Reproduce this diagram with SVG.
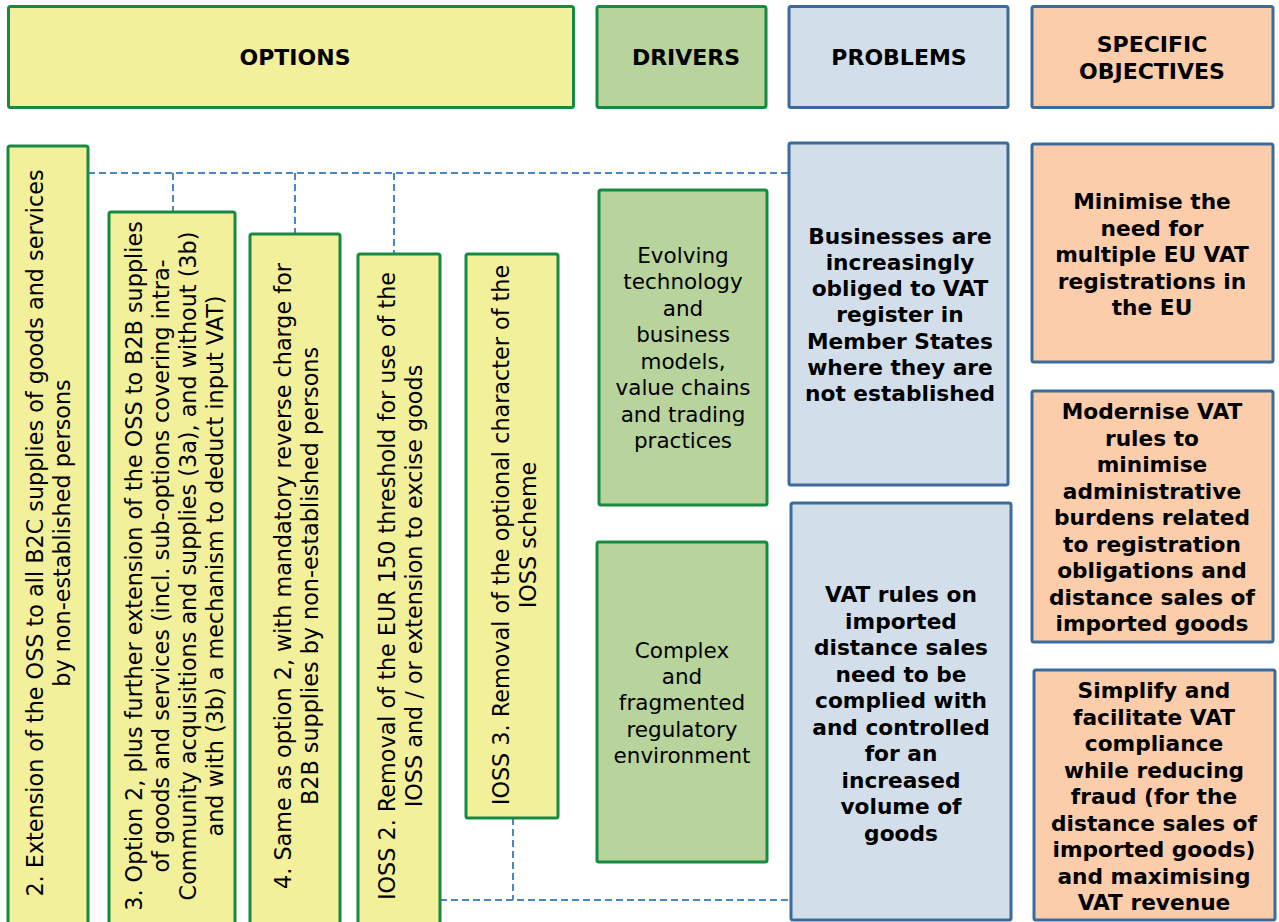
<svg xmlns="http://www.w3.org/2000/svg" width="1279" height="922" viewBox="0 0 1279 922">
<style>
.yel{fill:#F2F09B;stroke:#178A42;stroke-width:3}
.grn{fill:#B8D39B;stroke:#178A42;stroke-width:3}
.blu{fill:#D2DEEA;stroke:#3B6A9C;stroke-width:3}
.org{fill:#FBCDAA;stroke:#3B6A9C;stroke-width:3}
.hd{font-family:"DejaVu Sans",Verdana,sans-serif;font-weight:bold;font-size:22px;fill:#000;text-anchor:middle}
.rt{font-family:"DejaVu Sans",Verdana,sans-serif;font-size:22.3px;fill:#000;text-anchor:middle}
.dr{font-family:"DejaVu Sans",Verdana,sans-serif;font-size:21.5px;fill:#000;text-anchor:middle}
.bd{font-family:"DejaVu Sans",Verdana,sans-serif;font-weight:bold;font-size:21.7px;fill:#000;text-anchor:middle}
.dash{fill:none;stroke:#4A86C6;stroke-width:2;stroke-dasharray:7 4}
</style>
<rect width="1279" height="922" fill="#fff"/>
<g id="connectors">
<path class="dash" d="M88 173 H789"/>
<path class="dash" d="M173 173 V212"/>
<path class="dash" d="M295 173 V234"/>
<path class="dash" d="M394 173 V254"/>
<path class="dash" d="M440 900 H791"/>
<path class="dash" d="M513 818 V900"/>
</g>
<g id="h-options"><rect class="yel" x="8.5" y="6.5" width="565" height="101" rx="2"/><text class="hd" x="295" y="65">OPTIONS</text></g>
<g id="h-drivers"><rect class="grn" x="597" y="6.5" width="169" height="101" rx="2"/><text class="hd" x="686" y="65">DRIVERS</text></g>
<g id="h-problems"><rect class="blu" x="789" y="6.5" width="219" height="101" rx="2"/><text class="hd" x="899" y="65">PROBLEMS</text></g>
<g id="h-objectives"><rect class="org" x="1032" y="6.5" width="241" height="101" rx="2"/><text class="hd" x="1152" y="52">SPECIFIC</text><text class="hd" x="1152" y="79">OBJECTIVES</text></g>

<g id="opt2"><rect class="yel" x="8" y="146" width="80" height="790" rx="2"/>
<text class="rt" transform="translate(48 533) rotate(-90)"><tspan x="0" y="-5.5">2. Extension of the OSS to all B2C supplies of goods and services</tspan><tspan x="0" y="21.5">by non-established persons</tspan></text></g>
<g id="opt3"><rect class="yel" x="109" y="212" width="126" height="720" rx="2"/>
<text class="rt" transform="translate(174 566) rotate(-90)"><tspan x="0" y="-32.5">3. Option 2, plus further extension of the OSS to B2B supplies</tspan><tspan x="0" y="-5.5">of goods and services (incl. sub-options covering intra-</tspan><tspan x="0" y="21.5">Community acquisitions and supplies (3a), and without (3b)</tspan><tspan x="0" y="48.5">and with (3b) a mechanism to deduct input VAT)</tspan></text></g>
<g id="opt4"><rect class="yel" x="250" y="234" width="90" height="700" rx="2"/>
<text class="rt" transform="translate(296 576) rotate(-90)"><tspan x="0" y="-5.5">4. Same as option 2, with mandatory reverse charge for</tspan><tspan x="0" y="21.5">B2B supplies by non-established persons</tspan></text></g>
<g id="ioss2"><rect class="yel" x="358" y="254" width="82" height="680" rx="2"/>
<text class="rt" transform="translate(400 586) rotate(-90)"><tspan x="0" y="-5.5">IOSS 2. Removal of the EUR 150 threshold for use of the</tspan><tspan x="0" y="21.5">IOSS and / or extension to excise goods</tspan></text></g>
<g id="ioss3"><rect class="yel" x="466" y="254" width="92" height="564" rx="2"/>
<text class="rt" transform="translate(514 535) rotate(-90)"><tspan x="0" y="-5.5">IOSS 3. Removal of the optional character of the</tspan><tspan x="0" y="21.5">IOSS scheme</tspan></text></g>

<g id="driver1"><rect class="grn" x="599" y="190" width="168" height="315" rx="2"/>
<text class="dr"><tspan x="683" y="263">Evolving</tspan><tspan x="683" y="289">technology</tspan><tspan x="683" y="316">and</tspan><tspan x="683" y="342">business</tspan><tspan x="683" y="369">models,</tspan><tspan x="683" y="395">value chains</tspan><tspan x="683" y="422">and trading</tspan><tspan x="683" y="448">practices</tspan></text></g>
<g id="driver2"><rect class="grn" x="597" y="542" width="170" height="320" rx="2"/>
<text class="dr"><tspan x="682" y="658">Complex</tspan><tspan x="682" y="684">and</tspan><tspan x="682" y="710">fragmented</tspan><tspan x="682" y="737">regulatory</tspan><tspan x="682" y="763">environment</tspan></text></g>

<g id="problem1"><rect class="blu" x="789" y="143" width="219" height="342" rx="2"/>
<text class="bd"><tspan x="900" y="244">Businesses are</tspan><tspan x="900" y="270">increasingly</tspan><tspan x="900" y="296">obliged to VAT</tspan><tspan x="900" y="322">register in</tspan><tspan x="900" y="349">Member States</tspan><tspan x="900" y="375">where they are</tspan><tspan x="900" y="401">not established</tspan></text></g>
<g id="problem2"><rect class="blu" x="791" y="503" width="220" height="417" rx="2"/>
<text class="bd"><tspan x="901" y="602">VAT rules on</tspan><tspan x="901" y="629">imported</tspan><tspan x="901" y="655">distance sales</tspan><tspan x="901" y="682">need to be</tspan><tspan x="901" y="708">complied with</tspan><tspan x="901" y="735">and controlled</tspan><tspan x="901" y="761">for an</tspan><tspan x="901" y="788">increased</tspan><tspan x="901" y="814">volume of</tspan><tspan x="901" y="841">goods</tspan></text></g>

<g id="objective1"><rect class="org" x="1032" y="144" width="241" height="218" rx="2"/>
<text class="bd"><tspan x="1152" y="209">Minimise the</tspan><tspan x="1152" y="236">need for</tspan><tspan x="1152" y="262">multiple EU VAT</tspan><tspan x="1152" y="289">registrations in</tspan><tspan x="1152" y="315">the EU</tspan></text></g>
<g id="objective2"><rect class="org" x="1032" y="391" width="241" height="251" rx="2"/>
<text class="bd"><tspan x="1152" y="419">Modernise VAT</tspan><tspan x="1152" y="446">rules to</tspan><tspan x="1152" y="472">minimise</tspan><tspan x="1152" y="499">administrative</tspan><tspan x="1152" y="525">burdens related</tspan><tspan x="1152" y="552">to registration</tspan><tspan x="1152" y="578">obligations and</tspan><tspan x="1152" y="605">distance sales of</tspan><tspan x="1152" y="631">imported goods</tspan></text></g>
<g id="objective3"><rect class="org" x="1034" y="670" width="241" height="250" rx="2"/>
<text class="bd"><tspan x="1154" y="698">Simplify and</tspan><tspan x="1154" y="725">facilitate VAT</tspan><tspan x="1154" y="751">compliance</tspan><tspan x="1154" y="778">while reducing</tspan><tspan x="1154" y="804">fraud (for the</tspan><tspan x="1154" y="831">distance sales of</tspan><tspan x="1154" y="857">imported goods)</tspan><tspan x="1154" y="884">and maximising</tspan><tspan x="1154" y="910">VAT revenue</tspan></text></g>
</svg>
